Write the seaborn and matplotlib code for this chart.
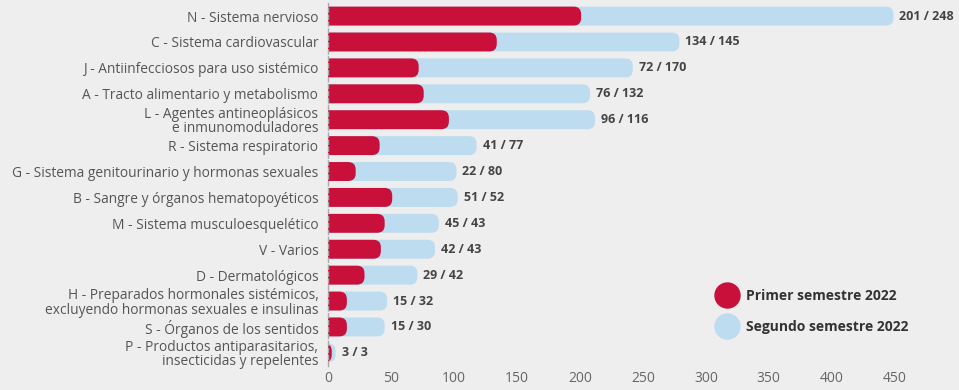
import matplotlib
matplotlib.use("Agg")
import matplotlib.pyplot as plt
from matplotlib.patches import FancyBboxPatch
from matplotlib.lines import Line2D
import seaborn as sns
import pandas as pd

categories = [
    "N - Sistema nervioso",
    "C - Sistema cardiovascular",
    "J - Antiinfecciosos para uso sistémico",
    "A - Tracto alimentario y metabolismo",
    "L - Agentes antineoplásicos\ne inmunomoduladores",
    "R - Sistema respiratorio",
    "G - Sistema genitourinario y hormonas sexuales",
    "B - Sangre y órganos hematopoyéticos",
    "M - Sistema musculoesquelético",
    "V - Varios",
    "D - Dermatológicos",
    "H - Preparados hormonales sistémicos,\nexcluyendo hormonas sexuales e insulinas",
    "S - Órganos de los sentidos",
    "P - Productos antiparasitarios,\ninsecticidas y repelentes",
]
primer = [201, 134, 72, 76, 96, 41, 22, 51, 45, 42, 29, 15, 15, 3]
segundo = [248, 145, 170, 132, 116, 77, 80, 52, 43, 43, 42, 32, 30, 3]
series_names = ["Primer semestre 2022", "Segundo semestre 2022"]
x_ticks = [0, 50, 100, 150, 200, 250, 300, 350, 400, 450]

BG = "#eeeeee"
RED = "#c8103a"
BLUE = "#bddcef"
LABEL = "#555555"
VALUE = "#444444"

sns.set_theme(style="white")
plt.rcParams["font.family"] = ["Open Sans", "DejaVu Sans"]

df = pd.DataFrame({"categoria": categories, "primer": primer, "segundo": segundo})
df["total"] = df["primer"] + df["segundo"]

fig = plt.figure(figsize=(9.59, 3.9), dpi=100, facecolor=BG)
ax = fig.add_axes([0.342, 0.062, 0.591, 0.930])
ax.set_facecolor(BG)

# stacked bars: the light bar spans both semesters, the red one the first
sns.barplot(data=df, y="categoria", x="total", color=BLUE, width=0.73,
            saturation=1, orient="h", ax=ax)
sns.barplot(data=df, y="categoria", x="primer", color=RED, width=0.73,
            saturation=1, orient="h", ax=ax)

ax.set_xlim(0, 450)
ax.set_ylim(len(categories) - 0.5, -0.5)

# swap square bars for ones with a rounded right end
px_x = ax.bbox.width / 450
px_y = ax.bbox.height / len(categories)
aspect = px_x / px_y
r = 7.5 / px_x
for p in list(ax.patches):
    x, y, w, h = p.get_x(), p.get_y(), p.get_width(), p.get_height()
    fc = p.get_facecolor()
    z = p.get_zorder()
    p.remove()
    ax.add_patch(FancyBboxPatch((x - 2 * r, y), w + 2 * r, h,
                                boxstyle=f"round,pad=0,rounding_size={r}",
                                mutation_aspect=aspect, facecolor=fc,
                                edgecolor="none", zorder=z))

for i, (a, b) in enumerate(zip(primer, segundo)):
    ax.text(a + b + 6 / px_x, i, f"{a} / {b}", va="center", ha="left",
            fontsize=9, fontweight="bold", color=VALUE, clip_on=False)

ax.set_xticks(x_ticks)
ax.set_xticklabels([str(t) for t in x_ticks])
ax.tick_params(axis="x", length=0, pad=4, labelsize=10, labelcolor="#666666")
ax.tick_params(axis="y", length=0, pad=7, labelsize=9.9, labelcolor=LABEL)
for lbl in ax.get_yticklabels():
    lbl.set_linespacing(0.95)
ax.set_xlabel("")
ax.set_ylabel("")

for s in ["top", "right", "bottom"]:
    ax.spines[s].set_visible(False)
ax.spines["left"].set_linestyle((0, (3, 2)))
ax.spines["left"].set_color("#aaaaaa")
ax.spines["left"].set_linewidth(1)

handles = [Line2D([], [], marker="o", ls="", markersize=18, markerfacecolor=c,
                  markeredgecolor=c) for c in (RED, BLUE)]
leg = ax.legend(handles, series_names, loc="upper left",
                bbox_to_anchor=(0.667, 0.231), frameon=False,
                prop={"weight": "bold", "size": 10}, labelspacing=1.25,
                handletextpad=0.4, borderpad=0)
for t in leg.get_texts():
    t.set_color("#333333")

fig.savefig("out.png", dpi=100, facecolor=BG)
